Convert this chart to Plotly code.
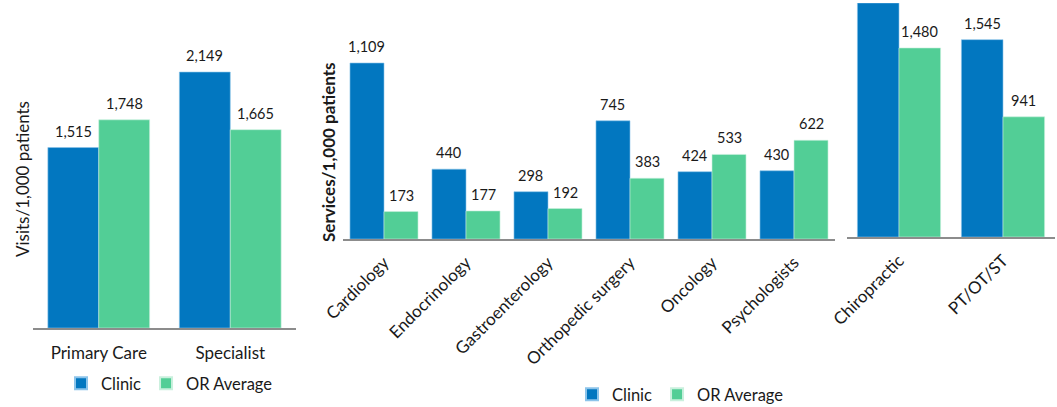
import plotly.graph_objects as go

# ---- data ----
series_names = ["Clinic", "OR Average"]

visit_categories = ["Primary Care", "Specialist"]
visit_clinic = [1515, 2149]
visit_or = [1748, 1665]

service_categories = ["Cardiology", "Endocrinology", "Gastroenterology",
                      "Orthopedic surgery", "Oncology", "Psychologists"]
service_clinic = [1109, 440, 298, 745, 424, 430]
service_or = [173, 177, 192, 383, 533, 622]

therapy_categories = ["Chiropractic", "PT/OT/ST"]
therapy_clinic = [1832, 1545]
therapy_or = [1480, 941]

# ---- style ----
BLUE = "#0277C0"
GREEN = "#52CE96"
FONT = "Lato"
TXT = "#1a1a1a"
W, H = 1057, 407

fig = go.Figure()

def px_x(a, b):
    return [a / W, b / W]

def ybot(pix):
    return 1 - pix / H

panels = [
    dict(cats=visit_categories, clinic=visit_clinic, orav=visit_or, xa="x", ya="y",
         dom=(33, 296), ytop=(328, 0), ymax=2754, bw=0.387, legend="legend", show=True,
         groups=("a", "b")),
    dict(cats=service_categories, clinic=service_clinic, orav=service_or, xa="x2", ya="y2",
         dom=(343, 835), ytop=(239, 0), ymax=1506, bw=0.415, legend="legend2", show=True,
         groups=("c", "d")),
    dict(cats=therapy_categories, clinic=therapy_clinic, orav=therapy_or, xa="x3", ya="y3",
         dom=(847, 1055), ytop=(237, 3), ymax=1832, bw=0.40, legend="legend", show=False,
         groups=("e", "f")),
]

for p in panels:
    catw = (p["dom"][1] - p["dom"][0]) / len(p["cats"])
    bw = p["bw"]
    for name, vals, col, edge, grp, off in [
            (series_names[0], p["clinic"], BLUE, "#8cc4ea", p["groups"][0], -bw),
            (series_names[1], p["orav"], GREEN, "#c9f0dd", p["groups"][1], 0.0)]:
        fig.add_trace(go.Bar(
            x=p["cats"], y=vals, name=name, xaxis=p["xa"], yaxis=p["ya"],
            width=bw, offset=off,
            marker=dict(color=col, line=dict(color=edge, width=0.6)),
            legend=p["legend"], showlegend=p["show"], legendgroup=grp,
            hoverinfo="skip"))
        # value labels (bars that run off the top of the panel have no visible label)
        shift = (off + bw / 2) * catw
        for c, v in zip(p["cats"], vals):
            if v >= p["ymax"]:
                continue
            fig.add_annotation(x=c, y=v, xref=p["xa"], yref=p["ya"], text=f"{v:,}",
                               showarrow=False, yanchor="bottom", xanchor="center",
                               xshift=shift, yshift=6,
                               font=dict(family=FONT, size=14.5, color=TXT))

axis_common = dict(showline=True, linecolor="#8c8c8c", linewidth=2,
                   ticks="", showgrid=False, zeroline=False, automargin=False,
                   tickfont=dict(family=FONT, size=17, color=TXT))
yhidden = dict(visible=False, showgrid=False, zeroline=False, automargin=False)

layout_axes = {}
for i, p in enumerate(panels):
    sfx = "" if i == 0 else str(i + 1)
    xa = dict(domain=px_x(*p["dom"]), anchor="y" + sfx, **axis_common)
    if i == 0:
        xa["ticklabelstandoff"] = 9
    else:
        xa["tickangle"] = -45
        xa["ticklabelstandoff"] = 5
    layout_axes["xaxis" + sfx] = xa
    layout_axes["yaxis" + sfx] = dict(domain=[ybot(p["ytop"][0]), 1 - p["ytop"][1] / H],
                                      range=[0, p["ymax"]], anchor="x" + sfx, **yhidden)

fig.update_layout(
    width=W, height=H,
    margin=dict(l=0, r=0, t=0, b=0, autoexpand=False),
    plot_bgcolor="white", paper_bgcolor="white",
    barmode="overlay",
    font=dict(family=FONT, color=TXT),
    legend=dict(orientation="h", x=61 / W, y=1 - 366 / H, xanchor="left", yanchor="top",
                font=dict(family=FONT, size=16.5, color=TXT), traceorder="grouped",
                tracegroupgap=0, itemsizing="constant", bgcolor="rgba(0,0,0,0)"),
    legend2=dict(orientation="h", x=572 / W, y=1 - 377 / H, xanchor="left", yanchor="top",
                 font=dict(family=FONT, size=16.5, color=TXT), traceorder="grouped",
                 tracegroupgap=12, itemsizing="constant", bgcolor="rgba(0,0,0,0)"),
    **layout_axes,
)

fig.add_annotation(text="Visits/1,000 patients", textangle=-90,
                   x=22 / W, y=1 - 179 / H, xref="paper", yref="paper",
                   xanchor="center", yanchor="middle",
                   showarrow=False, font=dict(family=FONT, size=17, color=TXT))
fig.add_annotation(text="<b>Services/1,000 patients</b>", textangle=-90,
                   x=328 / W, y=1 - 152 / H, xref="paper", yref="paper",
                   xanchor="center", yanchor="middle",
                   showarrow=False, font=dict(family=FONT, size=17, color=TXT))

fig.write_html("out.html", config={"displayModeBar": False},
               post_script="document.body.style.margin='0';")
